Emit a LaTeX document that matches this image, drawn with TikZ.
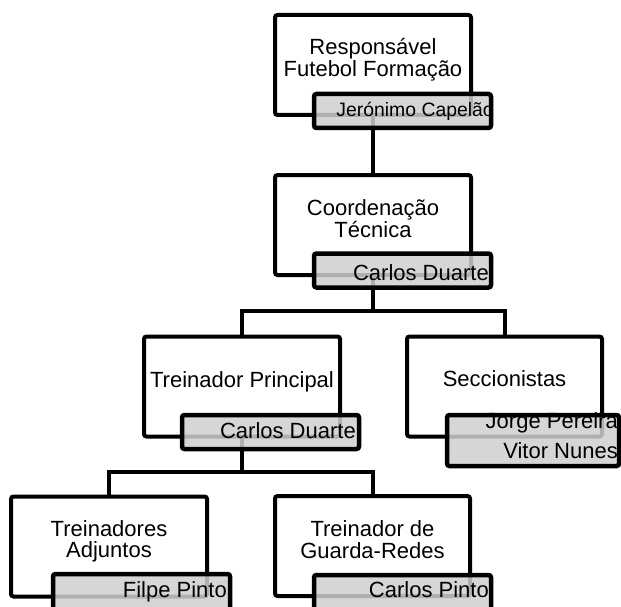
\documentclass[tikz,border=0pt]{standalone}
\usepackage{fontspec}
\setmainfont{Liberation Sans}
\usetikzlibrary{backgrounds}
\begin{document}
\begin{tikzpicture}[x=1pt,y=-1pt,
  rolebox/.style={draw=black, line width=4pt, rounded corners=2.5pt, fill=white,
    minimum width=196pt, minimum height=100pt, inner sep=0pt, outer sep=0pt},
  namebox/.style={draw=black, line width=4.5pt, rounded corners=2.5pt, fill=black!19,
    fill opacity=0.85, minimum width=177pt, minimum height=34pt, inner sep=0pt, outer sep=0pt},
  link/.style={draw=black, line width=4pt},
  title/.style={anchor=base, inner sep=0pt, font=\fontsize{22}{24}\selectfont},
  person/.style={anchor=base east, inner sep=0pt, font=\fontsize{22}{24}\selectfont}]

\useasboundingbox (0,0) rectangle (621,607);
\clip (0,0) rectangle (621,607);

% Responsável Futebol Formação
\node[rolebox] (resp) at (373,65) {};
\node[namebox] (respN) at (402.5,111) {};
\node[title] (respT1) at (373,55) {Responsável};
\node[title] (respT2) at (373,77) {Futebol Formação};
\node[person, font=\fontsize{19.4}{22}\selectfont] (respP) at (494,117) {Jerónimo Capelão};

% Coordenação Técnica
\node[rolebox] (coord) at (373,225) {};
\node[namebox] (coordN) at (402.5,270.5) {};
\node[title] (coordT1) at (373,215) {Coordenação};
\node[title] (coordT2) at (373,237) {Técnica};
\node[person] (coordP) at (489,280) {Carlos Duarte};

% Treinador Principal
\node[rolebox] (trein) at (242,386.5) {};
\node[namebox] (treinN) at (270.5,432) {};
\node[title] (treinT) at (242,387) {Treinador Principal};
\node[person] (treinP) at (356,438) {Carlos Duarte};

% Seccionistas
\node[rolebox, minimum width=195pt] (secc) at (504.5,386.5) {};
\node[namebox, minimum width=172pt, minimum height=51pt] (seccN) at (533,440.5) {};
\node[title] (seccT) at (504.5,386) {Seccionistas};
\node[person] (seccP1) at (618,428) {Jorge Pereira};
\node[person] (seccP2) at (618,458) {Vitor Nunes};

% Treinadores Adjuntos
\node[rolebox] (adj) at (109,546.5) {};
\node[namebox, minimum height=36pt] (adjN) at (141.5,592) {};
\node[title] (adjT1) at (109,536) {Treinadores};
\node[title] (adjT2) at (109,557) {Adjuntos};
\node[person] (adjP) at (227,597) {Filpe Pinto};

% Treinador de Guarda-Redes
\node[rolebox, minimum width=195pt] (gr) at (372.5,546) {};
\node[namebox, minimum height=35pt] (grN) at (402.5,592.5) {};
\node[title] (grT1) at (372.5,536) {Treinador de};
\node[title] (grT2) at (372.5,558) {Guarda-Redes};
\node[person] (grP) at (489,597) {Carlos Pinto};

% reporting lines, kept beneath the boxes
\begin{scope}[on background layer]
  \coordinate (j1) at (373,311);
  \coordinate (j2) at (242,472);
  \draw[link] (resp.south) -- (coord.north);
  \draw[link] (coord.south) -- (j1);
  \draw[link] (j1) -| (trein.north);
  \draw[link] (j1) -| (secc.north);
  \draw[link] (trein.south) -- (j2);
  \draw[link] (j2) -| (adj.north);
  \draw[link] (j2) -| (gr.north);
\end{scope}
\end{tikzpicture}
\end{document}
